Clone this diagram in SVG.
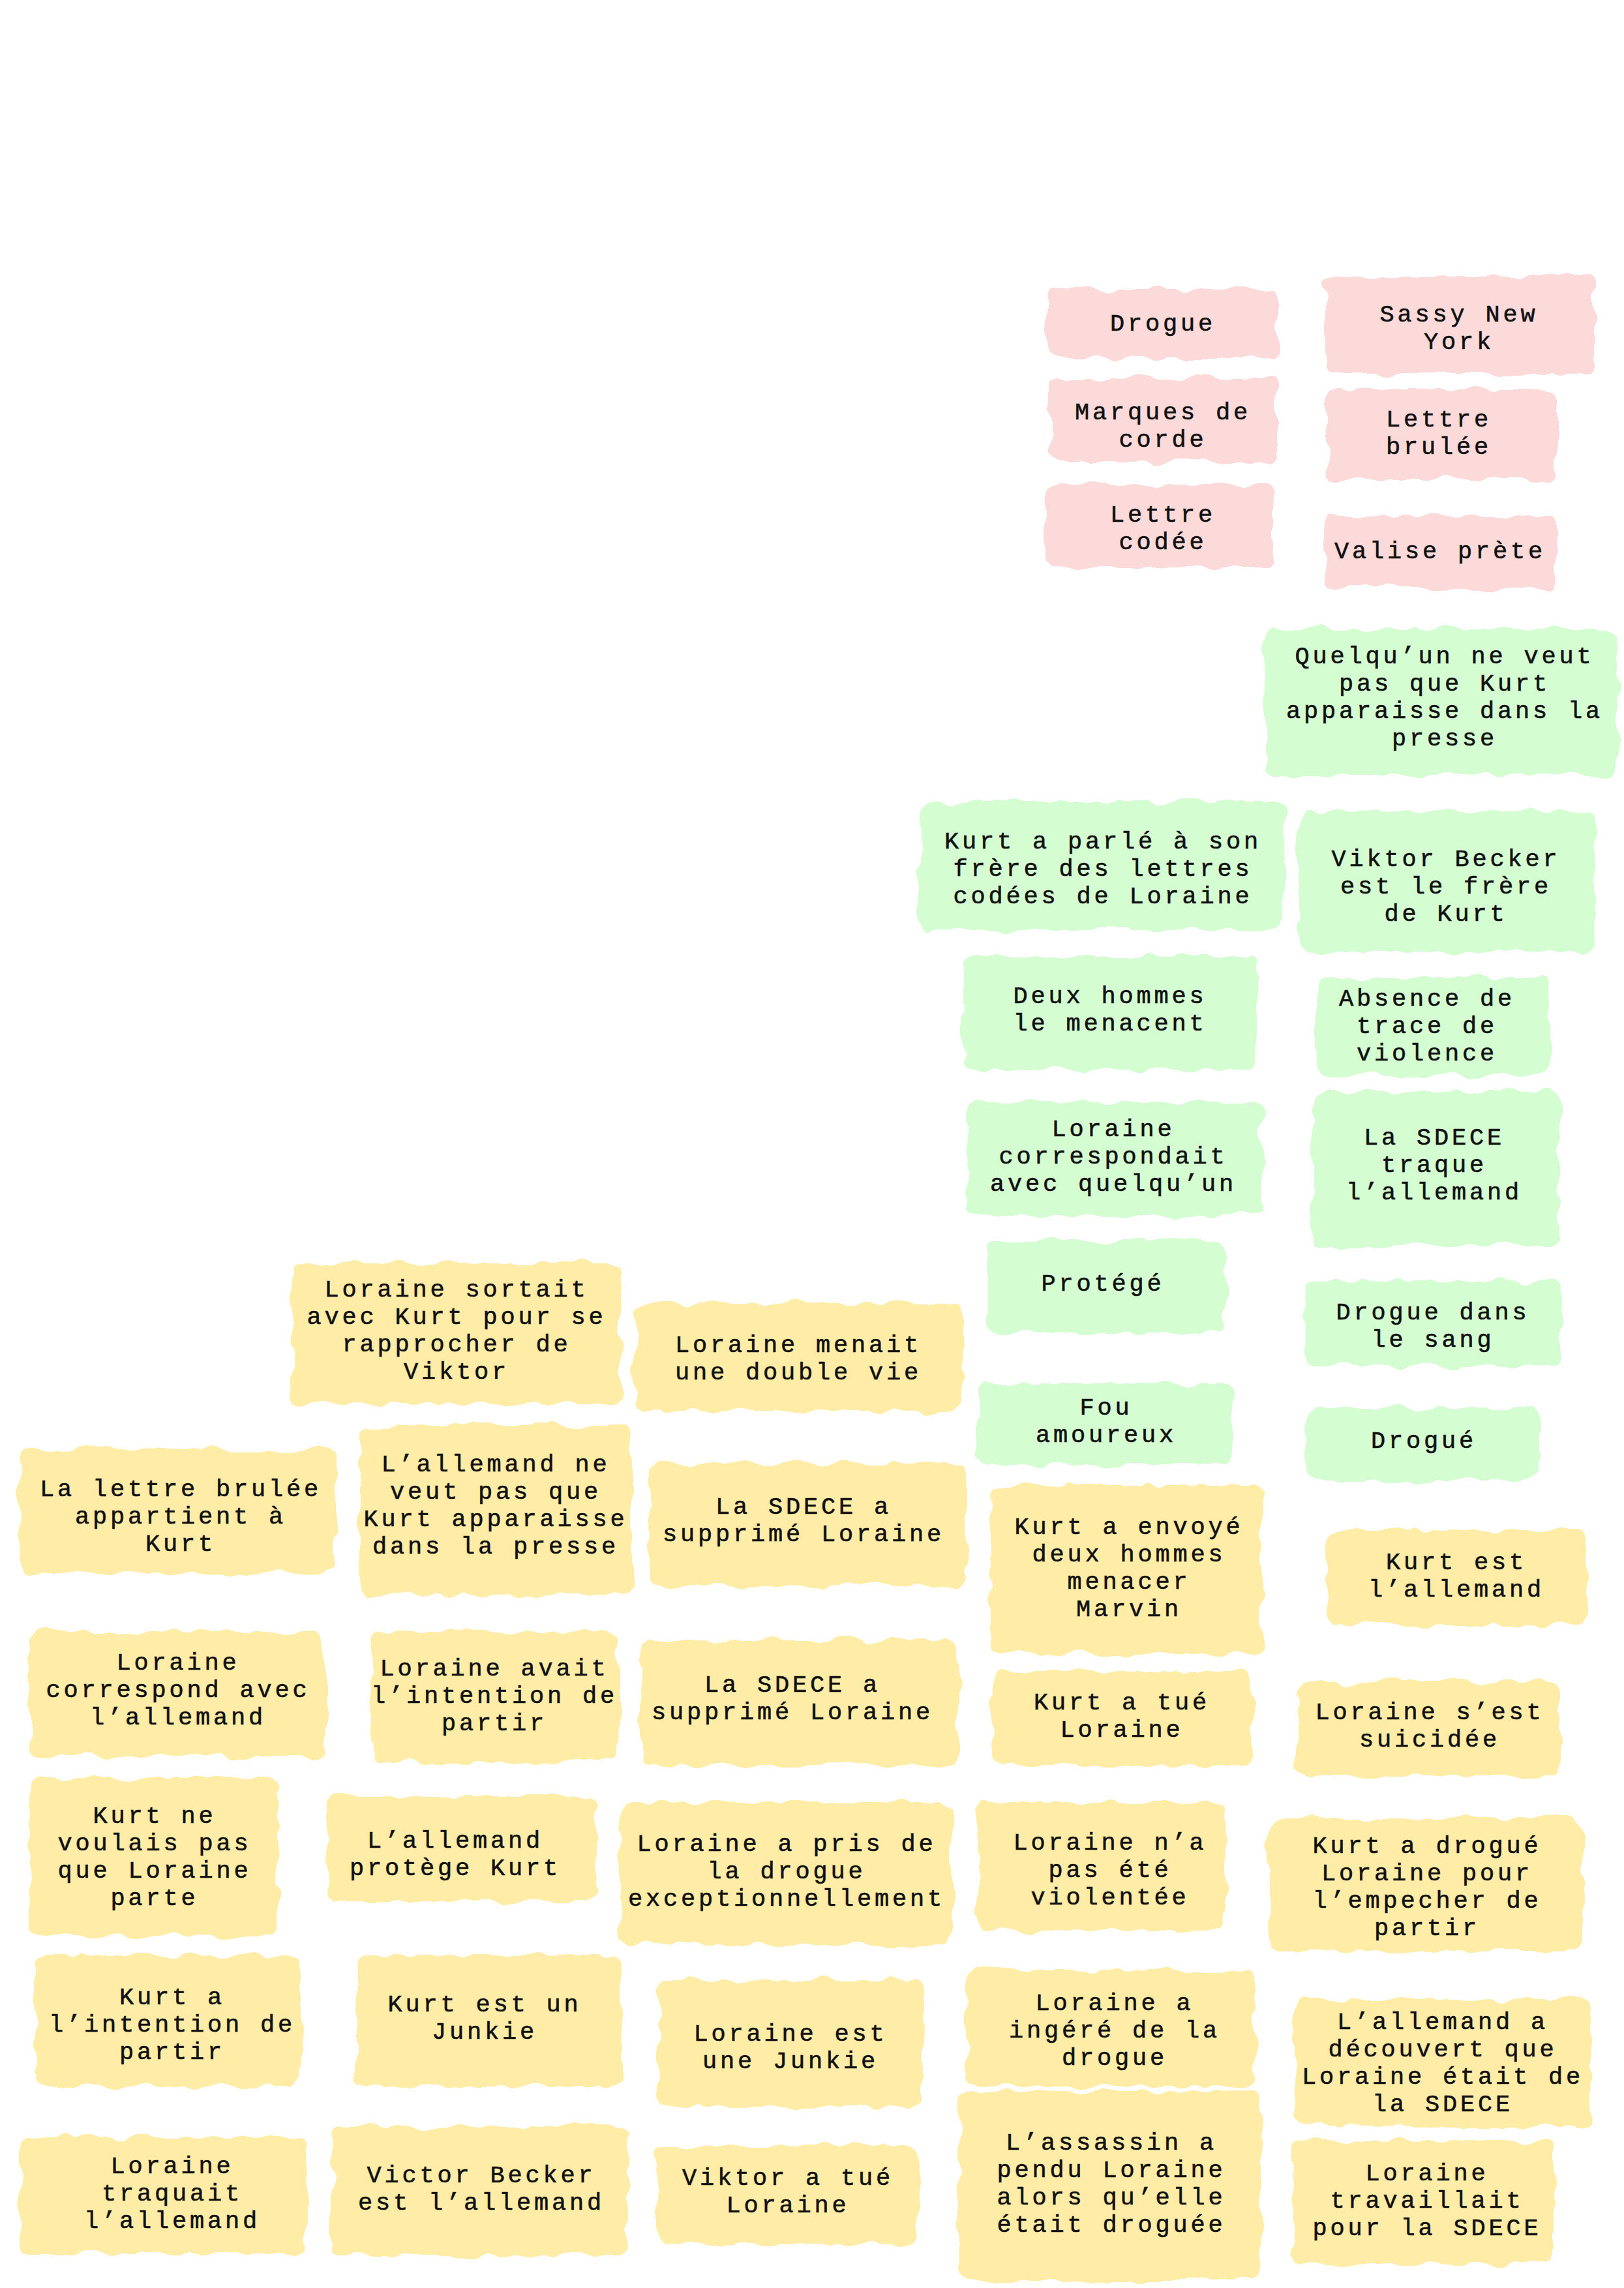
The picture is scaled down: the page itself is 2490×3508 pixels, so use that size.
<svg xmlns="http://www.w3.org/2000/svg" width="2490" height="3508" viewBox="0 0 2490 3508">
<style>
.p{fill:#FDDADA}
.g{fill:#D4FDD2}
.y{fill:#FFECA6}
rect{filter:url(#rough)}
text{font-family:"Liberation Mono","DejaVu Sans Mono",monospace;font-size:37px;letter-spacing:4.8px;fill:#111;stroke:#111;stroke-width:0.6px;text-anchor:middle;dominant-baseline:central}
</style>
<defs>
<filter id="rough" x="-5%" y="-5%" width="110%" height="110%">
<feTurbulence type="fractalNoise" baseFrequency="0.025" numOctaves="2" seed="4" result="n"/>
<feDisplacementMap in="SourceGraphic" in2="n" scale="22" xChannelSelector="R" yChannelSelector="G"/>
</filter>
</defs>
<rect width="2490" height="3508" fill="#fff" style="filter:none"/>
<g id="connectors"></g>

<g id="n1"><rect class="p" x="1606" y="443" width="354" height="107" rx="12"/><text x="1783" y="497">Drogue</text></g>
<g id="n2"><rect class="p" x="2031" y="423" width="414" height="150" rx="12"/><text x="2237" y="483">Sassy New</text><text x="2237" y="525">York</text></g>
<g id="n3"><rect class="p" x="1609" y="579" width="349" height="130" rx="12"/><text x="1783" y="633">Marques de</text><text x="1783" y="675">corde</text></g>
<g id="n4"><rect class="p" x="2034" y="597" width="351" height="137" rx="12"/><text x="2206" y="644">Lettre</text><text x="2206" y="686">brulée</text></g>
<g id="n5"><rect class="p" x="1604" y="743" width="349" height="127" rx="12"/><text x="1783" y="790">Lettre</text><text x="1783" y="832">codée</text></g>
<g id="n6"><rect class="p" x="2031" y="792" width="354" height="110" rx="12"/><text x="2208" y="846">Valise prète</text></g>

<g id="n7"><rect class="g" x="1940" y="964" width="540" height="224" rx="16"/><text x="2215" y="1007">Quelqu’un ne veut</text><text x="2215" y="1049">pas que Kurt</text><text x="2215" y="1091">apparaisse dans la</text><text x="2215" y="1133">presse</text></g>
<g id="n8"><rect class="g" x="1409" y="1230" width="560" height="195" rx="16"/><text x="1691" y="1291">Kurt a parlé à son</text><text x="1691" y="1333">frère des lettres</text><text x="1691" y="1375">codées de Loraine</text></g>
<g id="n9"><rect class="g" x="1991" y="1244" width="454" height="215" rx="16"/><text x="2217" y="1318">Viktor Becker</text><text x="2217" y="1360">est le frère</text><text x="2217" y="1402">de Kurt</text></g>
<g id="n10"><rect class="g" x="1477" y="1465" width="451" height="175" rx="16"/><text x="1702" y="1528">Deux hommes</text><text x="1702" y="1570">le menacent</text></g>
<g id="n11"><rect class="g" x="2020" y="1499" width="356" height="150" rx="16"/><text x="2188" y="1532">Absence de</text><text x="2188" y="1574">trace de</text><text x="2188" y="1616">violence</text></g>
<g id="n12"><rect class="g" x="1483" y="1689" width="452" height="175" rx="16"/><text x="1707" y="1732">Loraine</text><text x="1707" y="1774">correspondait</text><text x="1707" y="1816">avec quelqu’un</text></g>
<g id="n13"><rect class="g" x="2013" y="1673" width="379" height="238" rx="16"/><text x="2199" y="1745">La SDECE</text><text x="2199" y="1787">traque</text><text x="2199" y="1829">l’allemand</text></g>
<g id="n14"><rect class="g" x="1512" y="1902" width="367" height="141" rx="16"/><text x="1691" y="1969">Protégé</text></g>
<g id="n15"><rect class="g" x="2002" y="1964" width="390" height="132" rx="16"/><text x="2197" y="2013">Drogue dans</text><text x="2197" y="2055">le sang</text></g>
<g id="n16"><rect class="g" x="1499" y="2121" width="391" height="125" rx="16"/><text x="1696" y="2159">Fou</text><text x="1696" y="2201">amoureux</text></g>
<g id="n17"><rect class="g" x="2002" y="2159" width="358" height="112" rx="16"/><text x="2183" y="2210">Drogué</text></g>

<g id="n18"><rect class="y" x="447" y="1937" width="504" height="215" rx="16"/><text x="700" y="1978">Loraine sortait</text><text x="700" y="2020">avec Kurt pour se</text><text x="700" y="2062">rapprocher de</text><text x="700" y="2104">Viktor</text></g>
<g id="n19"><rect class="y" x="973" y="1998" width="504" height="165" rx="16"/><text x="1224" y="2063">Loraine menait</text><text x="1224" y="2105">une double vie</text></g>
<g id="n20"><rect class="y" x="29" y="2222" width="486" height="190" rx="16"/><text x="277" y="2284">La lettre brulée</text><text x="277" y="2326">appartient à</text><text x="277" y="2368">Kurt</text></g>
<g id="n21"><rect class="y" x="550" y="2186" width="419" height="259" rx="16"/><text x="760" y="2246">L’allemand ne</text><text x="760" y="2288">veut pas que</text><text x="760" y="2330">Kurt apparaisse</text><text x="760" y="2372">dans la presse</text></g>
<g id="n22"><rect class="y" x="996" y="2244" width="485" height="188" rx="16"/><text x="1232" y="2311">La SDECE a</text><text x="1232" y="2353">supprimé Loraine</text></g>
<g id="n23"><rect class="y" x="1519" y="2277" width="416" height="258" rx="16"/><text x="1731" y="2342">Kurt a envoyé</text><text x="1731" y="2384">deux hommes</text><text x="1731" y="2426">menacer</text><text x="1731" y="2468">Marvin</text></g>
<g id="n24"><rect class="y" x="2034" y="2347" width="398" height="143" rx="16"/><text x="2233" y="2396">Kurt est</text><text x="2233" y="2438">l’allemand</text></g>
<g id="n25"><rect class="y" x="45" y="2501" width="452" height="193" rx="16"/><text x="273" y="2550">Loraine</text><text x="273" y="2592">correspond avec</text><text x="273" y="2634">l’allemand</text></g>
<g id="n26"><rect class="y" x="570" y="2501" width="379" height="201" rx="16"/><text x="758" y="2559">Loraine avait</text><text x="758" y="2601">l’intention de</text><text x="758" y="2643">partir</text></g>
<g id="n27"><rect class="y" x="982" y="2515" width="488" height="192" rx="16"/><text x="1215" y="2584">La SDECE a</text><text x="1215" y="2626">supprimé Loraine</text></g>
<g id="n28"><rect class="y" x="1521" y="2562" width="399" height="145" rx="16"/><text x="1720" y="2611">Kurt a tué</text><text x="1720" y="2653">Loraine</text></g>
<g id="n29"><rect class="y" x="1991" y="2579" width="401" height="144" rx="16"/><text x="2192" y="2626">Loraine s’est</text><text x="2192" y="2668">suicidée</text></g>
<g id="n30"><rect class="y" x="45" y="2725" width="380" height="244" rx="16"/><text x="237" y="2785">Kurt ne</text><text x="237" y="2827">voulais pas</text><text x="237" y="2869">que Loraine</text><text x="237" y="2911">parte</text></g>
<g id="n31"><rect class="y" x="501" y="2754" width="412" height="161" rx="16"/><text x="698" y="2823">L’allemand</text><text x="698" y="2865">protège Kurt</text></g>
<g id="n32"><rect class="y" x="951" y="2763" width="508" height="219" rx="16"/><text x="1206" y="2828">Loraine a pris de</text><text x="1206" y="2870">la drogue</text><text x="1206" y="2912">exceptionnellement</text></g>
<g id="n33"><rect class="y" x="1499" y="2763" width="380" height="197" rx="16"/><text x="1702" y="2826">Loraine n’a</text><text x="1702" y="2868">pas été</text><text x="1702" y="2910">violentée</text></g>
<g id="n34"><rect class="y" x="1946" y="2788" width="481" height="203" rx="16"/><text x="2188" y="2831">Kurt a drogué</text><text x="2188" y="2873">Loraine pour</text><text x="2188" y="2915">l’empecher de</text><text x="2188" y="2957">partir</text></g>
<g id="n35"><rect class="y" x="54" y="2998" width="407" height="201" rx="16"/><text x="264" y="3063">Kurt a</text><text x="264" y="3105">l’intention de</text><text x="264" y="3147">partir</text></g>
<g id="n36"><rect class="y" x="546" y="2998" width="407" height="201" rx="16"/><text x="743" y="3074">Kurt est un</text><text x="743" y="3116">Junkie</text></g>
<g id="n37"><rect class="y" x="1009" y="3036" width="405" height="195" rx="16"/><text x="1212" y="3119">Loraine est</text><text x="1212" y="3161">une Junkie</text></g>
<g id="n38"><rect class="y" x="1481" y="3020" width="443" height="179" rx="16"/><text x="1709" y="3072">Loraine a</text><text x="1709" y="3114">ingéré de la</text><text x="1709" y="3156">drogue</text></g>
<g id="n39"><rect class="y" x="1987" y="3065" width="452" height="195" rx="16"/><text x="2212" y="3101">L’allemand a</text><text x="2212" y="3143">découvert que</text><text x="2212" y="3185">Loraine était de</text><text x="2212" y="3227">la SDECE</text></g>
<g id="n40"><rect class="y" x="29" y="3277" width="441" height="179" rx="16"/><text x="264" y="3322">Loraine</text><text x="264" y="3364">traquait</text><text x="264" y="3406">l’allemand</text></g>
<g id="n41"><rect class="y" x="510" y="3260" width="452" height="199" rx="16"/><text x="738" y="3336">Victor Becker</text><text x="738" y="3378">est l’allemand</text></g>
<g id="n42"><rect class="y" x="1007" y="3289" width="402" height="152" rx="16"/><text x="1208" y="3340">Viktor a tué</text><text x="1208" y="3382">Loraine</text></g>
<g id="n43"><rect class="y" x="1470" y="3206" width="465" height="289" rx="16"/><text x="1704" y="3286">L’assassin a</text><text x="1704" y="3328">pendu Loraine</text><text x="1704" y="3370">alors qu’elle</text><text x="1704" y="3412">était droguée</text></g>
<g id="n44"><rect class="y" x="1980" y="3282" width="403" height="190" rx="16"/><text x="2188" y="3333">Loraine</text><text x="2188" y="3375">travaillait</text><text x="2188" y="3417">pour la SDECE</text></g>
</svg>
